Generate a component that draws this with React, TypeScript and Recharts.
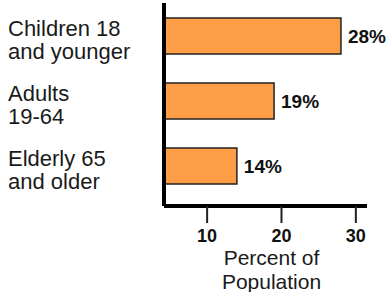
import { Bar, BarChart, LabelList, XAxis, YAxis } from "recharts";

// groups, top to bottom
const groups = ["Children 18|and younger", "Adults|19-64", "Elderly 65|and older"];
const percents = [28, 19, 14];
const xTicks = [10, 20, 30];

const data = groups.map((g, i) => ({ group: g, pct: percents[i] }));

const FONT = "'Liberation Sans', Arial, sans-serif";

const GroupTick = (props: any) => {
    const { y, payload } = props;
    const lines = String(payload.value).split("|");
    return (
        <text x={8} y={y} fontFamily={FONT} fontSize={22} fill="#1a1a1a" textAnchor="start">
            {lines.map((l, i) => (
                <tspan key={i} x={8} y={y + i * 23}>{l}</tspan>
            ))}
        </text>
    );
};

const AxisTitle = (props: any) => {
    const { viewBox } = props;
    const cx = viewBox.x + viewBox.width / 2 + 6;
    return (
        <text fontFamily={FONT} fontSize={21} fill="#1a1a1a" textAnchor="middle">
            <tspan x={cx} y={265}>Percent of</tspan>
            <tspan x={cx} y={289}>Population</tspan>
        </text>
    );
};

const App = () => {
    return (
        <div style={{ position: "absolute", left: 0, top: 0, width: 387, height: 292, background: "#fff" }}>
            <BarChart
                width={387}
                height={292}
                data={data}
                layout="vertical"
                margin={{ top: 3, right: 20, left: 0, bottom: 26 }}
            >
                <XAxis
                    type="number"
                    domain={[4.2, 31.5]}
                    ticks={xTicks}
                    allowDataOverflow
                    height={60}
                    axisLine={{ stroke: "#000", strokeWidth: 4 }}
                    tickLine={{ stroke: "#222", strokeWidth: 2 }}
                    tickSize={17}
                    tickMargin={6}
                    tick={{ fill: "#111", fontFamily: FONT, fontSize: 18, fontWeight: "bold" }}
                    label={<AxisTitle />}
                />
                <YAxis
                    type="category"
                    dataKey="group"
                    width={164}
                    padding={{ top: 0, bottom: 8 }}
                    axisLine={{ stroke: "#000", strokeWidth: 4 }}
                    tickLine={false}
                    tick={<GroupTick />}
                />
                <Bar dataKey="pct" fill="#FD9D45" stroke="#222" strokeWidth={1.5} barSize={36} isAnimationActive={false}>
                    <LabelList
                        dataKey="pct"
                        position="right"
                        offset={7}
                        formatter={(v: any) => `${v}%`}
                        style={{ fill: "#111", fontFamily: FONT, fontSize: 19, fontWeight: "bold" }}
                    />
                </Bar>
            </BarChart>
        </div>
    );
};

export default App;
